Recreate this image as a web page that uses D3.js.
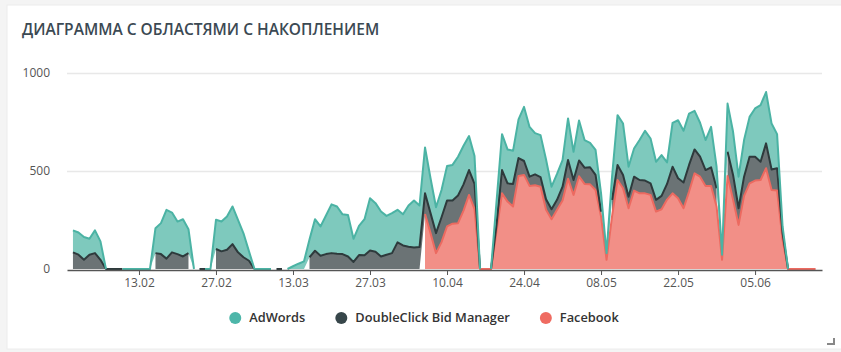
<!DOCTYPE html>
<html>
<head>
<meta charset="utf-8">
<script src="https://cdn.jsdelivr.net/npm/d3@7"></script>
<style>
  body { margin: 0; background: #f4f4f4; font-family: "Open Sans", sans-serif; }
  svg { display: block; }
</style>
</head>
<body>
<svg width="841" height="352"></svg>
<script>
// Data: one value per day starting from startDate, null = no data that day
const startDate = "2017-02-01";
const xTickLabels = ["13.02", "27.02", "13.03", "27.03", "10.04", "24.04", "08.05", "22.05", "05.06"];
const yTicks = [0, 500, 1000];

const adwords = [
  112, 113, 116, 81, 116, 94, 0, null, null, 0, 0, 0, 0, 0, 0, 127, 158, 249, 203, 166,
  190, 122, 0, null, 0, 0, 149, 152, 170, 192, 166, 122, 48, 0, 0, 0, 0, null, null, 0,
  14, 27, 39, 90, 161, 149, 197, 249, 241, 203, 211, 118, 149, 184, 267, 248, 229, 198, 204, 166,
  159, 210, 239, 212, 234, 178, 132, 139, 176, 182, 198, 197, 173, 142, 0, null, 0, 119, 183, 173,
  169, 197, 276, 254, 210, 214, 203, 115, 132, 136, 212, 144, 204, 141, 125, 128, 93, 34, 118, 254,
  262, 153, 144, 204, 254, 229, 194, 208, 110, 224, 296, 264, 262, 197, 173, 153, 206, 110, 26, 246,
  220, 161, 187, 203, 246, 289, 262, 234, 174, 34, 0, null, null, null, null, null
];

const doubleclick = [
  85, 73, 47, 73, 81, 47, 0, 0, 0, 0, null, null, null, null, null, 81, 76, 53, 85, 76,
  64, 81, null, 0, 0, null, 102, 90, 98, 127, 85, 60, 42, 0, null, null, null, 0, 0, null,
  null, null, null, 60, 93, 68, 76, 81, 78, 76, 64, 36, 71, 70, 94, 88, 64, 73, 81, 136,
  120, 114, 110, 112, 105, 102, 102, 127, 132, 118, 141, 134, 127, 129, 0, null, 0, 33, 119, 93,
  115, 91, 71, 47, 56, 49, 54, 51, 51, 71, 95, 76, 81, 83, 87, 77, 25, null, 85, 77,
  68, 59, 71, 68, 65, 59, 60, 68, 80, 136, 102, 131, 136, 122, 102, 81, 95, 93, null, 123,
  127, 85, 98, 136, 122, 93, 127, 105, 114, 34, 0, null, null, null, null, null
];

const facebook = [
  null, null, null, null, null, null, null, null, null, null, null, null, null, null, null, null, null, null, null, null,
  null, null, null, null, null, null, null, null, null, null, null, null, null, null, null, null, null, null, null, null,
  null, null, null, null, null, null, null, null, null, null, null, null, null, null, null, null, null, null, null, null,
  null, null, null, null, 281, 183, 81, 137, 217, 231, 234, 298, 378, 305, 0, 0, 0, 192, 386, 344,
  319, 475, 480, 424, 427, 420, 302, 254, 302, 349, 461, 378, 473, 434, 432, 403, 268, 47, 268, 454,
  412, 310, 400, 386, 386, 378, 293, 305, 354, 386, 361, 310, 395, 488, 471, 424, 424, 319, 47, 475,
  353, 225, 373, 437, 451, 454, 514, 403, 400, 149, 0, 0, 0, 0, 0, 0
];

const series = [
  { key: "fb", name: "Facebook", values: facebook, fill: "#f28f87", stroke: "#ec6a60", dot: "#ef6b61" },
  { key: "dc", name: "DoubleClick Bid Manager", values: doubleclick, fill: "#6b7375", stroke: "#2e3a3c", dot: "#37464a" },
  { key: "aw", name: "AdWords", values: adwords, fill: "#7ec9bd", stroke: "#4bb3a4", dot: "#4db6a9" }
];

const svg = d3.select("svg");

// card background
svg.append("rect")
  .attr("x", 7).attr("y", 5).attr("width", 840).attr("height", 344)
  .attr("fill", "#fff").attr("stroke", "#ececec");

svg.append("text")
  .attr("x", 22).attr("y", 35)
  .attr("fill", "#3b4953")
  .style("font-size", "15.5px").style("font-weight", 600)
  .text("ДИАГРАММА С ОБЛАСТЯМИ С НАКОПЛЕНИЕМ");

const start = d3.timeParse("%Y-%m-%d")(startDate);
const rows = adwords.map(function(_, i) {
  return { date: d3.timeDay.offset(start, i), fb: facebook[i], dc: doubleclick[i], aw: adwords[i] };
});

const first = rows[0].date, last = rows[rows.length - 1].date;
const x = d3.scaleTime()
  .domain([d3.timeHour.offset(first, -26), d3.timeHour.offset(last, 28)])
  .range([67, 822]);
const y = d3.scaleLinear().domain([0, 1000]).range([269, 73]);

// gridlines
svg.append("g").selectAll("line")
  .data(yTicks.filter(d => d > 0))
  .enter().append("line")
  .attr("x1", 67).attr("x2", 822)
  .attr("y1", d => Math.round(y(d)) + 0.5).attr("y2", d => Math.round(y(d)) + 0.5)
  .attr("stroke", "#e8e8e8").attr("stroke-width", 1.5);

// y labels
const yAxis = svg.append("g")
  .attr("transform", "translate(50,0)")
  .call(d3.axisLeft(y).tickValues(yTicks).tickFormat(d3.format("d")).tickSize(0).tickPadding(0));
yAxis.select(".domain").remove();
yAxis.selectAll("text")
  .attr("fill", "#555").style("font-size", "12px").style("font-family", "Open Sans");

// stacked areas
const stack = d3.stack()
  .keys(series.map(s => s.key))
  .value((d, k) => d[k] == null ? 0 : d[k]);
const layers = stack(rows);

const plot = svg.append("g");
layers.forEach(function(layer, li) {
  const s = series[li];
  const area = d3.area()
    .defined((d, i) => s.values[i] != null)
    .x(d => x(d.data.date))
    .y0(d => y(d[0]))
    .y1(d => y(d[1]));
  plot.append("path")
    .datum(layer)
    .attr("d", area)
    .attr("fill", s.fill);
});
layers.forEach(function(layer, li) {
  const s = series[li];
  const line = d3.line()
    .defined((d, i) => s.values[i] != null)
    .x(d => x(d.data.date))
    .y(d => y(d[1]));
  plot.append("path")
    .datum(layer)
    .attr("d", line)
    .attr("fill", "none")
    .attr("stroke", s.stroke)
    .attr("stroke-width", 2)
    .attr("stroke-linejoin", "round");
});

// x axis
const tickDates = xTickLabels.map(t => d3.timeParse("%d.%m.%Y")(t + ".2017"));
const xAxis = svg.append("g")
  .attr("transform", "translate(0,270)")
  .call(d3.axisBottom(x).tickValues(tickDates).tickFormat(d3.timeFormat("%d.%m")).tickSize(5).tickSizeOuter(0).tickPadding(3));
xAxis.select(".domain").attr("stroke", "#555").attr("stroke-width", 1.5);
xAxis.selectAll(".tick line").attr("stroke", "#555");
xAxis.selectAll("text")
  .attr("fill", "#555").style("font-size", "12px").style("font-family", "Open Sans");

// legend
const legendOrder = [series[2], series[1], series[0]];
const legend = svg.append("g");
let cx = 0;
legendOrder.forEach(function(s) {
  const g = legend.append("g");
  g.append("circle").attr("r", 6).attr("fill", s.dot);
  const t = g.append("text").attr("x", 14).attr("dy", "0.35em")
    .attr("fill", "#333").style("font-size", "12.8px").style("font-weight", 600)
    .text(s.name);
  const w = 14 + t.node().getComputedTextLength();
  g.attr("transform", "translate(" + (cx + 6) + ",0)");
  cx += 6 + w + 30;
});
const total = cx - 30;
legend.attr("transform", "translate(" + (424 - total / 2) + ",318)");

// resize handle
svg.append("path")
  .attr("d", "M827,344H834V338")
  .attr("fill", "none").attr("stroke", "#888").attr("stroke-width", 2);
</script>
</body>
</html>
